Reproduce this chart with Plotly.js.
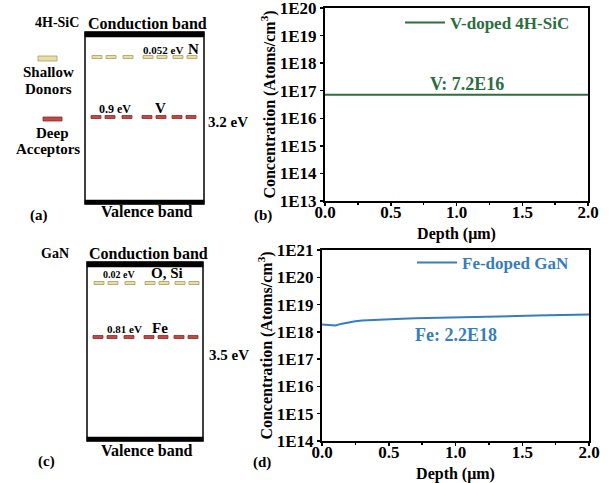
<!DOCTYPE html>
<html>
<head>
<meta charset="utf-8">
<script src="https://cdn.plot.ly/plotly-3.0.1.min.js"></script>
<style>html,body{margin:0;padding:0;background:#fff;}#chart{width:612px;height:483px;}</style>
</head>
<body>
<div id="chart"></div>
<script>
// ---- Data ----
const depthSiC = [0.0, 0.1, 0.2, 0.3, 0.4, 0.5, 0.6, 0.7, 0.8, 0.9, 1.0, 1.1, 1.2, 1.3, 1.4, 1.5, 1.6, 1.7, 1.8, 1.9, 2.0];
const concSiC = [7.1e16, 7.1e16, 7.2e16, 7.2e16, 7.1e16, 7.2e16, 7.2e16, 7.1e16, 7.3e16, 7.2e16, 7.3e16, 7.2e16, 7.3e16, 7.2e16, 7.2e16, 7.3e16, 7.2e16, 7.3e16, 7.3e16, 7.2e16, 7.2e16];
const depthGaN = [0.0, 0.05, 0.1, 0.15, 0.2, 0.25, 0.3, 0.4, 0.5, 0.6, 0.7, 0.8, 0.9, 1.0, 1.2, 1.4, 1.6, 1.8, 2.0];
const concGaN = [1.85e18, 1.75e18, 1.72e18, 2.0e18, 2.25e18, 2.45e18, 2.6e18, 2.8e18, 2.95e18, 3.05e18, 3.15e18, 3.25e18, 3.35e18, 3.45e18, 3.6e18, 3.75e18, 3.95e18, 4.15e18, 4.35e18];

const seriesNames = ['V-doped 4H-SiC', 'Fe-doped GaN'];
const seriesNotes = ['V: 7.2E16', 'Fe: 2.2E18'];
const yTickValsSiC = [1e13, 1e14, 1e15, 1e16, 1e17, 1e18, 1e19, 1e20];
const yTickTextSiC = ['1E13', '1E14', '1E15', '1E16', '1E17', '1E18', '1E19', '1E20'];
const yTickValsGaN = [1e14, 1e15, 1e16, 1e17, 1e18, 1e19, 1e20, 1e21];
const yTickTextGaN = ['1E14', '1E15', '1E16', '1E17', '1E18', '1E19', '1E20', '1E21'];

const materials = ['4H-SiC', 'GaN'];
const bandGaps = ['3.2 eV', '3.5 eV'];
const donorNames = ['N', 'O, Si'];
const donorDepths = ['0.052 eV', '0.02 eV'];
const acceptorNames = ['V', 'Fe'];
const acceptorDepths = ['0.9 eV', '0.81 eV'];
const panelLetters = ['(a)', '(b)', '(c)', '(d)'];

// ---- Helpers ----
const W = 612, H = 483;
const X = p => p / W;
const Y = p => 1 - p / H;
const FAM = "'Liberation Serif', 'Times New Roman', serif";
const GREEN = 'rgb(44,110,62)';
const BLUE = 'rgb(52,126,190)';
const BEIGE = '#e8dfa6', BEIGE_L = '#a89a62';
const RED = '#c24a45', RED_L = '#8a2a26';

const shapes = [];
const annotations = [];
function rect(x0, y0, x1, y1, fill, lc, lw) {
  shapes.push({type: 'rect', xref: 'paper', yref: 'paper', x0: X(x0), x1: X(x1), y0: Y(y1), y1: Y(y0),
    fillcolor: fill, line: {color: lc, width: lw}, layer: 'above'});
}
function txt(text, x, y, size, color, xanchor) {
  annotations.push({text: text, xref: 'paper', yref: 'paper', x: X(x), y: Y(y), showarrow: false,
    xanchor: xanchor || 'center', yanchor: 'middle',
    font: {family: FAM, size: size, color: color || '#000', weight: 'bold'}});
}

// Band diagram boxes
const boxes = [
  {x0: 85, x1: 204, top: 32, bot: 204, donorY: 57, accY: 117},
  {x0: 87, x1: 203, top: 262, bot: 441, donorY: 283, accY: 337}
];
const dashOffsets = [7, 21, 38, 58, 72, 88, 102];
boxes.forEach((b, i) => {
  rect(b.x0, b.top, b.x1, b.bot, 'rgba(0,0,0,0)', '#000', 1.5);
  rect(b.x0, b.top, b.x1, b.top + 5, '#000', '#000', 0.5);
  rect(b.x0, b.bot - 4, b.x1, b.bot, '#000', '#000', 0.5);
  dashOffsets.forEach(o => {
    rect(b.x0 + o, b.donorY - 1.5, b.x0 + o + 10, b.donorY + 1.5, BEIGE, BEIGE_L, 0.8);
    rect(b.x0 + o - 1, b.accY - 1.5, b.x0 + o + 9, b.accY + 1.5, RED, RED_L, 0.8);
  });
});

// Band diagram legend (panel a)
rect(38, 56, 57, 61, BEIGE, BEIGE_L, 0.8);
rect(43, 117, 62, 121, RED, RED_L, 0.8);
txt('Shallow', 48, 72, 15);
txt('Donors', 48, 89, 15);
txt('Deep', 52, 133, 15);
txt('Acceptors', 48, 149, 15);

// Panel (a) text
txt(materials[0], 57, 22, 14);
txt('Conduction band', 147, 23, 16);
txt('Valence band', 147, 211, 16);
txt(donorDepths[0], 163, 50, 11);
txt(donorNames[0], 193, 49, 15);
txt(acceptorDepths[0], 115, 109, 12);
txt(acceptorNames[0], 160, 108, 15);
txt(bandGaps[0], 228, 122, 15);
txt(panelLetters[0], 39, 216, 15);

// Panel (c) text
txt(materials[1], 55, 253, 14);
txt('Conduction band', 148, 253, 16);
txt('Valence band', 147, 450, 16);
txt(donorDepths[1], 119, 274, 10);
txt(donorNames[1], 167, 273, 15);
txt(acceptorDepths[1], 124, 329, 11);
txt(acceptorNames[1], 160, 328, 15);
txt(bandGaps[1], 229, 355, 15);
txt(panelLetters[2], 46, 461, 15);

// Plot panel letters and notes
txt(panelLetters[1], 263, 215, 15);
txt(panelLetters[3], 262, 462, 15);
annotations.push({text: seriesNotes[0], xref: 'x', yref: 'y', x: 1.08, y: Math.log10(1.75e17), showarrow: false,
  xanchor: 'center', yanchor: 'middle', font: {family: FAM, size: 18, color: GREEN, weight: 'bold'}});
annotations.push({text: seriesNotes[1], xref: 'x2', yref: 'y2', x: 1.0, y: Math.log10(7.7e17), showarrow: false,
  xanchor: 'center', yanchor: 'middle', font: {family: FAM, size: 18, color: BLUE, weight: 'bold'}});

const tickFont = {family: FAM, size: 17, color: '#000', weight: 'bold'};
const titleFont = {family: FAM, size: 16, color: '#000', weight: 'bold'};

function xAxis(dom, anchor) {
  return {domain: dom, anchor: anchor, range: [0, 2], dtick: 0.5, tick0: 0, tickformat: '.1f',
    ticks: 'outside', ticklen: 3, tickwidth: 1.5, tickcolor: '#000', ticklabelstandoff: -8,
    ticklabeloverflow: 'allow',
    showline: true, linewidth: 2, linecolor: '#000', mirror: true,
    showgrid: false, zeroline: false, tickfont: tickFont, automargin: false,
    minor: {dtick: 0.25, ticks: 'outside', ticklen: 2, tickcolor: '#000', showgrid: false},
    title: {text: 'Depth (μm)', font: titleFont, standoff: 6}};
}
function yAxis(dom, anchor, rng, tv, tt) {
  return {domain: dom, anchor: anchor, type: 'log', range: rng, tickvals: tv, ticktext: tt,
    ticks: 'outside', ticklen: 3, tickwidth: 1.5, tickcolor: '#000', ticklabeloverflow: 'allow',
    showline: true, linewidth: 2, linecolor: '#000', mirror: true,
    showgrid: false, zeroline: false, tickfont: tickFont, automargin: false,
    title: {text: 'Concentration (Atoms/cm<sup>3</sup>)', font: titleFont, standoff: 0}};
}

const traces = [
  {x: depthSiC, y: concSiC, xaxis: 'x', yaxis: 'y', type: 'scatter', mode: 'lines', name: seriesNames[0],
    line: {color: GREEN, width: 2}, legend: 'legend'},
  {x: depthGaN, y: concGaN, xaxis: 'x2', yaxis: 'y2', type: 'scatter', mode: 'lines', name: seriesNames[1],
    line: {color: BLUE, width: 2}, legend: 'legend2'}
];

const legendFont = {family: FAM, size: 17, weight: 'bold'};
const layout = {
  width: W, height: H,
  margin: {l: 0, r: 0, t: 0, b: 0},
  paper_bgcolor: '#fff', plot_bgcolor: '#fff',
  font: {family: FAM, weight: 'bold'},
  showlegend: true,
  legend: {x: X(400), y: Y(5), xanchor: 'left', yanchor: 'top', bgcolor: 'rgba(0,0,0,0)',
    font: Object.assign({color: GREEN}, legendFont), itemwidth: 40},
  legend2: {x: X(412), y: Y(245), xanchor: 'left', yanchor: 'top', bgcolor: 'rgba(0,0,0,0)',
    font: Object.assign({color: BLUE}, legendFont), itemwidth: 40},
  xaxis: xAxis([X(325), X(588)], 'y'),
  yaxis: yAxis([Y(201), Y(8)], 'x', [12.999, 20.001], yTickValsSiC, yTickTextSiC),
  xaxis2: xAxis([X(322), X(589)], 'y2'),
  yaxis2: yAxis([Y(441), Y(250)], 'x2', [13.999, 21.001], yTickValsGaN, yTickTextGaN),
  shapes: shapes,
  annotations: annotations
};

Plotly.newPlot('chart', traces, layout, {staticPlot: true, displayModeBar: false});
</script>
</body>
</html>
